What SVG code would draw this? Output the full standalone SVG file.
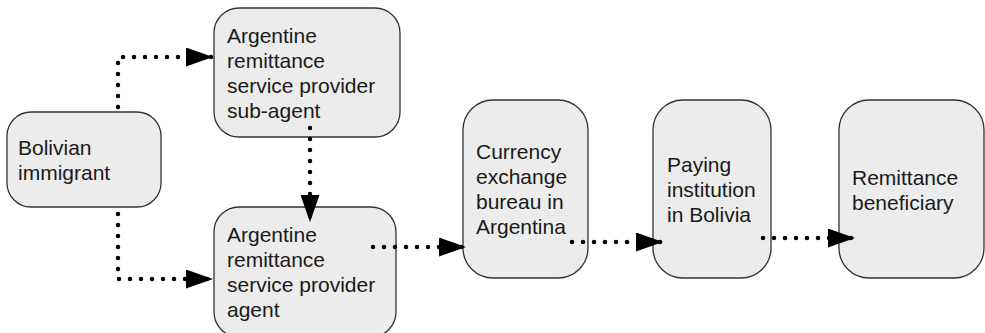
<svg xmlns="http://www.w3.org/2000/svg" width="985" height="333" viewBox="0 0 985 333">
<style>
.box{fill:#ebeceb;stroke:#333;stroke-width:1.3}
.lbl{font-family:"Liberation Sans",Arial,sans-serif;font-size:21px;fill:#1a1a1a}
.con{fill:none;stroke:#000;stroke-width:4.5;stroke-linecap:round;stroke-dasharray:0 11;marker-end:url(#ah)}
</style>
<defs>
<marker id="ah" viewBox="0 0 27 19" refX="27" refY="9.5" markerWidth="27" markerHeight="19" markerUnits="userSpaceOnUse" orient="auto">
<path d="M0,0 L27,9.5 L0,19 z" fill="#000"/>
</marker>
</defs>
<rect width="985" height="333" fill="#fff"/>
<g id="node-bolivian">
<rect class="box" x="7" y="112" width="154" height="95" rx="24"/>
<text class="lbl" x="18" y="155">Bolivian</text>
<text class="lbl" x="18" y="180">immigrant</text>
</g>
<g id="node-subagent">
<rect class="box" x="214" y="8" width="186" height="129" rx="25"/>
<text class="lbl" x="227" y="43">Argentine</text>
<text class="lbl" x="227" y="68">remittance</text>
<text class="lbl" x="227" y="93">service provider</text>
<text class="lbl" x="227" y="118">sub-agent</text>
</g>
<g id="node-agent">
<rect class="box" x="214" y="207" width="182" height="130" rx="25"/>
<text class="lbl" x="227" y="242">Argentine</text>
<text class="lbl" x="227" y="267">remittance</text>
<text class="lbl" x="227" y="292">service provider</text>
<text class="lbl" x="227" y="317">agent</text>
</g>
<g id="node-currency">
<rect class="box" x="463" y="100" width="125" height="178" rx="30"/>
<text class="lbl" x="476" y="159">Currency</text>
<text class="lbl" x="476" y="184">exchange</text>
<text class="lbl" x="476" y="209">bureau in</text>
<text class="lbl" x="476" y="234">Argentina</text>
</g>
<g id="node-paying">
<rect class="box" x="653" y="100" width="118" height="178" rx="30"/>
<text class="lbl" x="667" y="172">Paying</text>
<text class="lbl" x="667" y="197">institution</text>
<text class="lbl" x="667" y="222">in Bolivia</text>
</g>
<g id="node-beneficiary">
<rect class="box" x="839" y="100" width="145" height="178" rx="30"/>
<text class="lbl" x="852" y="185">Remittance</text>
<text class="lbl" x="852" y="210">beneficiary</text>
</g>
<g id="connectors">
<path class="con" d="M118,107 V57 H213"/>
<path class="con" d="M118,214 V279 H213"/>
<path class="con" d="M310,128 V222"/>
<path class="con" d="M373,247 H466"/>
<path class="con" d="M572,242 H663"/>
<path class="con" d="M763,238 H855"/>
</g>
</svg>
